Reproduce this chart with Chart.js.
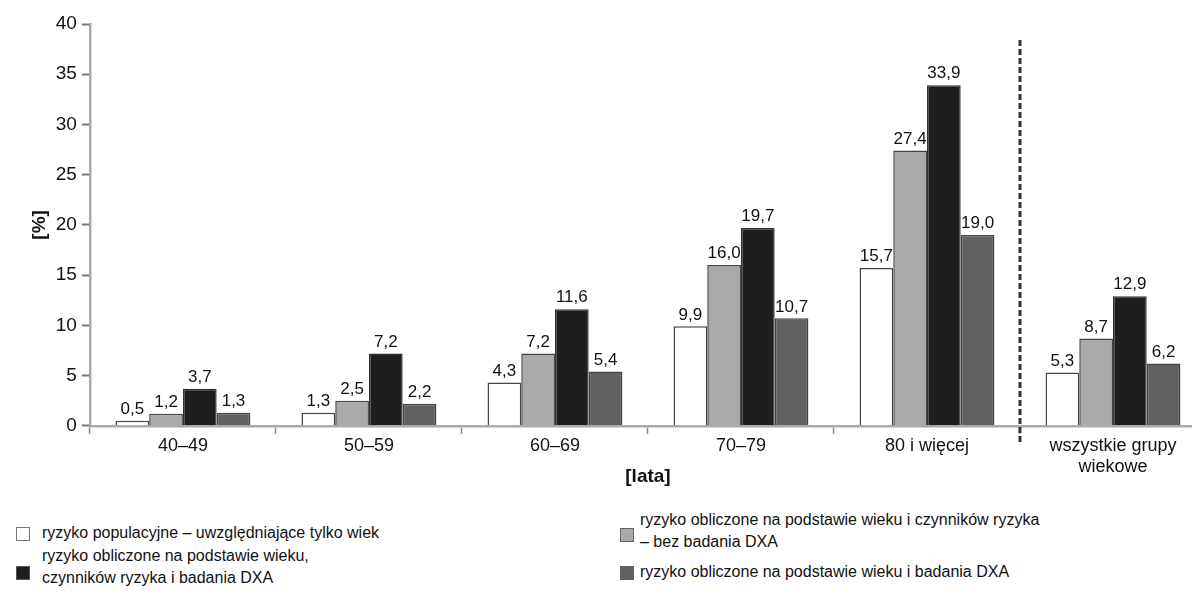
<!DOCTYPE html>
<html>
<head>
<meta charset="utf-8">
<script src="https://cdn.jsdelivr.net/npm/chart.js@4.4.1/dist/chart.umd.min.js"></script>
<style>
  html, body { margin: 0; padding: 0; background: #fff; overflow: hidden; }
  body { width: 1192px; height: 595px; position: relative; font-family: 'Liberation Sans', Arial, sans-serif; }
  #wrap { position: absolute; left: 0; top: 0; width: 1206px; height: 488px; }
  .leg { position: absolute; font-size: 16px; line-height: 22px; color: #111; }
  .box { position: absolute; width: 12px; height: 12px; }
</style>
</head>
<body>
<div id="wrap"><canvas id="chart"></canvas></div>

<div class="box" style="left:16px;top:527px;background:#fff;border:1.5px solid #777;"></div>
<div class="leg" style="left:42px;top:522px;">ryzyko populacyjne – uwzględniające tylko wiek</div>

<div class="box" style="left:16px;top:566px;background:#1e1e1e;border:1.5px solid #555;"></div>
<div class="leg" style="left:42px;top:545px;">ryzyko obliczone na podstawie wieku,<br>czynników ryzyka i badania DXA</div>

<div class="box" style="left:620px;top:528px;background:#aaa;border:1.5px solid #666;"></div>
<div class="leg" style="left:640px;top:509px;">ryzyko obliczone na podstawie wieku i czynników ryzyka<br>– bez badania DXA</div>

<div class="box" style="left:620px;top:566px;background:#606060;border:1.5px solid #606060;"></div>
<div class="leg" style="left:640px;top:561px;">ryzyko obliczone na podstawie wieku i badania DXA</div>

<script>
// age groups
const categories = ['40–49', '50–59', '60–69', '70–79', '80 i więcej', ['wszystkie grupy', 'wiekowe']];
const popRisk = [0.5, 1.3, 4.3, 9.9, 15.7, 5.3];
const factorRisk = [1.2, 2.5, 7.2, 16.0, 27.4, 8.7];
const fullRisk = [3.7, 7.2, 11.6, 19.7, 33.9, 12.9];
const dxaRisk = [1.3, 2.2, 5.4, 10.7, 19.0, 6.2];
const yTicks = [0, 5, 10, 15, 20, 25, 30, 35, 40];

const font = "'Liberation Sans', Arial, sans-serif";

function fmt(v) {
    return v.toFixed(1).replace('.', ',');
}

// value labels above bars
const valueLabels = {
    id: 'valueLabels',
    afterDatasetsDraw(chart) {
        const ctx = chart.ctx;
        ctx.save();
        ctx.font = '17px ' + font;
        ctx.fillStyle = '#111';
        ctx.textAlign = 'center';
        ctx.textBaseline = 'bottom';
        chart.data.datasets.forEach((ds, i) => {
            chart.getDatasetMeta(i).data.forEach((bar, j) => {
                ctx.fillText(fmt(ds.data[j]), bar.x, bar.y - 3);
            });
        });
        ctx.restore();
    }
};

// dashed separator before the last group
const separator = {
    id: 'separator',
    afterDraw(chart) {
        const x = chart.scales.x;
        const px = (x.getPixelForValue(4) + x.getPixelForValue(5)) / 2;
        const area = chart.chartArea;
        const ctx = chart.ctx;
        ctx.save();
        ctx.strokeStyle = '#333';
        ctx.lineWidth = 3;
        ctx.setLineDash([6, 3]);
        ctx.beginPath();
        ctx.moveTo(px, area.top + 16);
        ctx.lineTo(px, area.bottom + 17);
        ctx.stroke();
        ctx.restore();
    }
};

new Chart(document.getElementById('chart'), {
    type: 'bar',
    data: {
        labels: categories,
        datasets: [
            { label: 'ryzyko populacyjne – uwzględniające tylko wiek', data: popRisk, backgroundColor: '#ffffff', borderColor: '#444', borderWidth: 1.5 },
            { label: 'ryzyko obliczone na podstawie wieku i czynników ryzyka – bez badania DXA', data: factorRisk, backgroundColor: '#aaaaaa', borderColor: '#444', borderWidth: 1.5 },
            { label: 'ryzyko obliczone na podstawie wieku, czynników ryzyka i badania DXA', data: fullRisk, backgroundColor: '#1e1e1e', borderColor: '#333', borderWidth: 1.5 },
            { label: 'ryzyko obliczone na podstawie wieku i badania DXA', data: dxaRisk, backgroundColor: '#606060', borderColor: '#444', borderWidth: 1.5 }
        ]
    },
    options: {
        responsive: true,
        maintainAspectRatio: false,
        animation: false,
        layout: { padding: { top: 24, left: 28, right: 0, bottom: 0 } },
        datasets: { bar: { categoryPercentage: 0.725, barPercentage: 1 } },
        plugins: {
            legend: { display: false },
            tooltip: { enabled: false }
        },
        scales: {
            x: {
                grid: { drawOnChartArea: false, tickLength: 8, color: '#888', tickWidth: 1.5 },
                border: { color: '#aaa', width: 2.5 },
                ticks: { color: '#111', font: { size: 18, family: font, lineHeight: 1.15 }, padding: 2, maxRotation: 0 },
                title: { display: true, text: '[lata]', color: '#111', font: { size: 19, weight: 'bold', family: font }, padding: { top: -14, bottom: 0 } }
            },
            y: {
                min: 0,
                max: 40,
                afterBuildTicks(axis) { axis.ticks = yTicks.map(v => ({ value: v })); },
                grid: { drawOnChartArea: false, tickLength: 8, color: '#777', tickWidth: 2 },
                border: { color: '#aaa', width: 2.5 },
                ticks: { color: '#111', font: { size: 19, family: font }, padding: 5 },
                title: { display: true, text: '[%]', color: '#111', font: { size: 19, weight: 'bold', family: font }, padding: { top: 0, bottom: 0 } }
            }
        }
    },
    plugins: [valueLabels, separator]
});
</script>
</body>
</html>
